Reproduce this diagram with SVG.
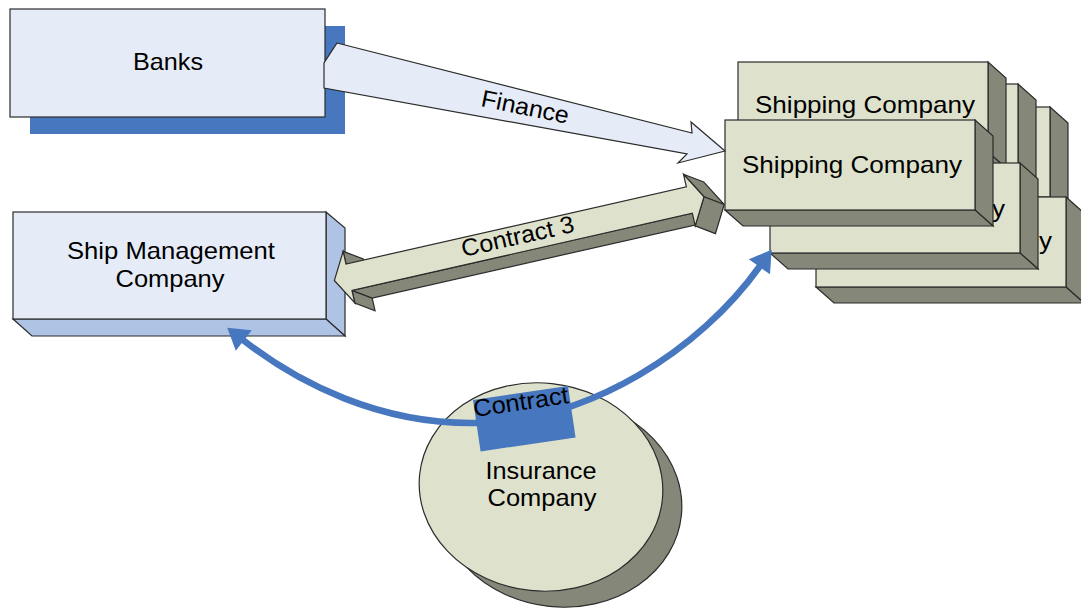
<svg xmlns="http://www.w3.org/2000/svg" width="1081" height="608" viewBox="0 0 1081 608">
  <style>
    .t { font-family: "Liberation Sans", Arial, sans-serif; font-size: 24px; fill: #000; }
    .edge { stroke: #2b2b2b; stroke-width: 1.2; stroke-linejoin: miter; }
    .paleBlue { fill: #E6ECF7; }
    .sideBlue { fill: #AFC4E5; }
    .olive { fill: #DEE2CC; }
    .oliveDark { fill: #858779; }
    .blue { fill: #4677BF; }
    .curve { fill: none; stroke: #4677BF; stroke-width: 6.5; }
  </style>
  <defs>
    <marker id="blueHead" markerUnits="userSpaceOnUse" markerWidth="26" markerHeight="28" refX="1" refY="13" orient="auto" overflow="visible">
      <path d="M0,0 L21,13 L0,26 Z" fill="#4677BF"/>
    </marker>
    <!-- one 3D box: front 250x90, depth 18x16 -->
    <g id="shipBox">
      <polygon class="oliveDark edge" points="250,0 268,16 268,106 250,90"/>
      <polygon class="oliveDark edge" points="0,90 250,90 268,106 18,106"/>
      <rect class="olive edge" x="0" y="0" width="250" height="90"/>
    </g>
  </defs>

  <rect width="1081" height="608" fill="#ffffff"/>

  <!-- Banks -->
  <g id="banks">
    <rect class="blue" x="30" y="26" width="315" height="108"/>
    <rect class="paleBlue edge" x="10" y="9" width="315" height="108"/>
    <text class="t" x="168" y="70" text-anchor="middle" textLength="70" lengthAdjust="spacingAndGlyphs">Banks</text>
  </g>

  <!-- Ship Management Company -->
  <g id="ship-management">
    <polygon class="sideBlue edge" points="326,212 345,228 345,336 326,319"/>
    <polygon class="sideBlue edge" points="13,319 326,319 345,336 32,336"/>
    <rect class="paleBlue edge" x="13" y="212" width="313" height="107"/>
    <text class="t" x="171" y="259" text-anchor="middle" textLength="208" lengthAdjust="spacingAndGlyphs">Ship Management</text>
    <text class="t" x="170" y="287" text-anchor="middle" textLength="109" lengthAdjust="spacingAndGlyphs">Company</text>
  </g>

  <!-- Shipping companies, back to front -->
  <g id="shipping-c"><use href="#shipBox" x="800" y="107"/></g>
  <g id="shipping-b"><use href="#shipBox" x="768" y="84"/></g>
  <g id="shipping-a">
    <use href="#shipBox" x="738" y="62"/>
    <text class="t" x="865" y="113" text-anchor="middle" textLength="220" lengthAdjust="spacingAndGlyphs">Shipping Company</text>
  </g>
  <g id="shipping-f">
    <use href="#shipBox" x="816" y="197"/>
    <text class="t" x="942" y="249" text-anchor="middle" textLength="220" lengthAdjust="spacingAndGlyphs">Shipping Company</text>
  </g>
  <g id="shipping-d">
    <use href="#shipBox" x="770" y="163"/>
    <text class="t" x="895" y="217" text-anchor="middle" textLength="220" lengthAdjust="spacingAndGlyphs">Shipping Company</text>
  </g>
  <g id="shipping-e">
    <use href="#shipBox" x="725" y="120"/>
    <text class="t" x="852" y="173" text-anchor="middle" textLength="220" lengthAdjust="spacingAndGlyphs">Shipping Company</text>
  </g>

  <!-- Insurance Company -->
  <g id="insurance">
    <ellipse class="oliveDark edge" cx="560" cy="503" rx="122" ry="104" transform="rotate(6 560 503)"/>
    <ellipse class="olive edge" cx="541" cy="487" rx="122" ry="104" transform="rotate(6 541 487)"/>
    <text class="t" x="541" y="479" text-anchor="middle" textLength="111" lengthAdjust="spacingAndGlyphs">Insurance</text>
    <text class="t" x="542" y="506" text-anchor="middle" textLength="109" lengthAdjust="spacingAndGlyphs">Company</text>
  </g>

  <!-- Connectors -->
  <g id="connectors">
    <!-- Finance: tapered block arrow from Banks to Shipping Company -->
    <g id="finance">
      <polygon class="paleBlue edge" points="337,43 692,133 691,122 725,151 678,163 687,154 324,88 324,63"/>
      <text class="t" transform="translate(480 106) rotate(11.5)" x="0" y="0" font-size="22" textLength="89" lengthAdjust="spacingAndGlyphs">Finance</text>
    </g>

    <!-- Contract 3: extruded double arrow -->
    <g id="contract3" transform="translate(346 264) rotate(-12.76)">
      <polygon class="oliveDark edge" points="0,-13 0,0 18,12 18,-1"/>
      <polygon class="oliveDark edge" points="0,27 0,40 18,52 18,39"/>
      <polygon class="oliveDark edge" points="0,27 349,27 367,39 18,39"/>
      <polygon class="oliveDark edge" points="349,-13 364,13.5 382,25.5 367,-1"/>
      <polygon class="oliveDark edge" points="364,13.5 349,40 367,52 382,25.5"/>
      <polygon class="olive edge" points="0,-13 0,0 349,0 349,-13 364,13.5 349,40 349,27 0,27 0,40 -15,13.5"/>
      <text class="t" x="116" y="19" font-size="25" textLength="115" lengthAdjust="spacingAndGlyphs">Contract 3</text>
    </g>

    <!-- Contract: insurance curves to both parties -->
    <g id="contract">
      <path class="curve" d="M478,423 C590,421 700,350 760,266" marker-end="url(#blueHead)"/>
      <path class="curve" d="M478,423 C380,425 298,383 243,340" marker-end="url(#blueHead)"/>
      <g transform="translate(473 400) rotate(-8.4)">
        <rect class="blue" x="0" y="0" width="96" height="52"/>
        <text class="t" x="-1" y="17" font-size="22" textLength="96" lengthAdjust="spacingAndGlyphs">Contract</text>
      </g>
    </g>
  </g>
</svg>
